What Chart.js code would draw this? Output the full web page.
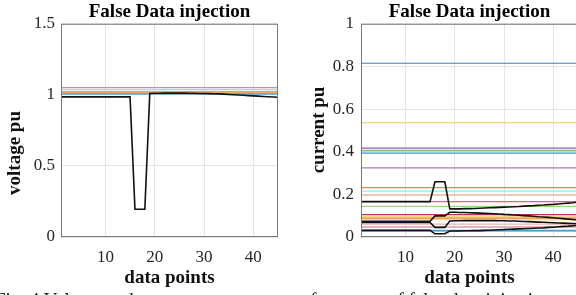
<!DOCTYPE html>
<html>
<head>
<meta charset="utf-8">
<title>False Data injection</title>
<script src="https://cdn.jsdelivr.net/npm/chart.js@4"></script>
<style>
    html, body { margin: 0; padding: 0; background: #fff; overflow: hidden; }
    #page { position: relative; width: 576px; height: 295px; overflow: hidden; }
    .box { position: absolute; top: 0; height: 295px; }
    #voltageBox { left: 0; width: 290px; }
    #currentBox { left: 290px; width: 300px; }
    #caption {
        position: absolute; top: 290px; left: -5px; white-space: nowrap;
        font: 19px "Liberation Serif", "Times New Roman", serif; line-height: 19px; color: #111;
    }
</style>
</head>
<body>
<div id="page">
    <div class="box" id="voltageBox"><canvas id="voltageChart" width="290" height="295"></canvas></div>
    <div class="box" id="currentBox"><canvas id="currentChart" width="300" height="295"></canvas></div>
    <div id="caption">Fig. 4 Voltage and current measurements for a case of false data injection attack</div>
</div>

<script>
// x axis: sample index 1..45
const dataPoints = Array.from({ length: 45 }, (_, i) => i + 1);
const xTicks = [10, 20, 30, 40];

// voltage plot
const voltageTicks = [0, 0.5, 1, 1.5];
const voltageTickLabels = ["0", "0.5", "1", "1.5"];
const voltageLevels = [1.051, 1.037, 1.023, 1.016, 1.007];
const voltageLevelColors = ["#b58fca", "#a9d6ee", "#e79a76", "#edb74a", "#2f7dbf"];
// attacked bus voltage
const voltageAttacked = [
    0.986, 0.986, 0.986, 0.986, 0.986, 0.986, 0.986, 0.986, 0.986, 0.986,
    0.986, 0.986, 0.986, 0.986, 0.986, 0.195, 0.195, 0.195, 1.010, 1.011,
    1.011, 1.012, 1.012, 1.012, 1.012, 1.012, 1.011, 1.011, 1.010, 1.010,
    1.009, 1.008, 1.007, 1.005, 1.003, 1.001, 0.999, 0.997, 0.995, 0.993,
    0.991, 0.989, 0.987, 0.985, 0.983
];

// current plot
const currentTicks = [0, 0.2, 0.4, 0.6, 0.8, 1];
const currentTickLabels = ["0", "0.2", "0.4", "0.6", "0.8", "1"];
const currentLevels = [
    0.815, 0.536, 0.417, 0.406, 0.398, 0.393, 0.324, 0.232, 0.215, 0.196,
    0.166, 0.144, 0.105, 0.093, 0.087, 0.081, 0.060, 0.047, 0.031, 0.026
];
const currentLevelColors = [
    "#3f7fbf", "#f7d283", "#9b59ae", "#8dc06a", "#8acfef", "#4a8fcc", "#a978b8", "#e8825a", "#a9ddf3", "#f0b49a",
    "#d0706c", "#a9d17f", "#b5344f", "#edb120", "#f0a070", "#f3cf6a", "#e9b7a8", "#c46a7e", "#4d9bd6", "#7fc9ec"
];
const currentA = [
    0.166, 0.166, 0.166, 0.166, 0.166, 0.166, 0.166, 0.166, 0.166, 0.166,
    0.166, 0.166, 0.166, 0.166, 0.166, 0.259, 0.259, 0.259, 0.132, 0.132,
    0.132, 0.133, 0.133, 0.134, 0.135, 0.136, 0.137, 0.138, 0.139, 0.140,
    0.141, 0.142, 0.143, 0.145, 0.146, 0.147, 0.149, 0.150, 0.152, 0.153,
    0.155, 0.157, 0.159, 0.161, 0.164
];
const currentB = [
    0.074, 0.074, 0.074, 0.074, 0.074, 0.074, 0.074, 0.074, 0.074, 0.074,
    0.074, 0.074, 0.074, 0.074, 0.074, 0.099, 0.099, 0.099, 0.116, 0.116,
    0.115, 0.115, 0.114, 0.113, 0.112, 0.111, 0.110, 0.109, 0.108, 0.106,
    0.105, 0.103, 0.102, 0.100, 0.099, 0.097, 0.095, 0.094, 0.092, 0.090,
    0.088, 0.086, 0.084, 0.082, 0.080
];
const currentC = [
    0.068, 0.068, 0.068, 0.068, 0.068, 0.068, 0.068, 0.068, 0.068, 0.068,
    0.068, 0.068, 0.068, 0.068, 0.068, 0.045, 0.045, 0.045, 0.075, 0.076,
    0.076, 0.077, 0.077, 0.077, 0.077, 0.077, 0.077, 0.077, 0.076, 0.076,
    0.075, 0.075, 0.074, 0.073, 0.072, 0.071, 0.070, 0.069, 0.068, 0.067,
    0.066, 0.065, 0.064, 0.063, 0.062
];
const currentD = [
    0.031, 0.031, 0.031, 0.031, 0.031, 0.031, 0.031, 0.031, 0.031, 0.031,
    0.031, 0.031, 0.031, 0.031, 0.031, 0.015, 0.015, 0.015, 0.028, 0.028,
    0.028, 0.029, 0.029, 0.030, 0.030, 0.031, 0.032, 0.033, 0.034, 0.035,
    0.036, 0.037, 0.038, 0.039, 0.040, 0.041, 0.042, 0.043, 0.045, 0.046,
    0.048, 0.050, 0.051, 0.053, 0.055
];

const serif = "'Liberation Serif', 'Times New Roman', serif";

// draws the axes box and the y label (MATLAB style)
const frame = {
    id: "frame",
    afterDraw(chart, args, opts) {
        const { ctx, chartArea } = chart;
        ctx.save();
        ctx.strokeStyle = "#7a7a7a";
        ctx.lineWidth = 1;
        ctx.strokeRect(chartArea.left + 0.5, chartArea.top + 0.5,
            chartArea.right - chartArea.left - 1, chartArea.bottom - chartArea.top - 1);
        ctx.translate(opts.labelX, opts.labelY);
        ctx.rotate(-Math.PI / 2);
        ctx.font = "bold 19px " + serif;
        ctx.fillStyle = "#111";
        ctx.textAlign = "center";
        ctx.textBaseline = "middle";
        ctx.fillText(opts.label, 0, 0);
        ctx.restore();
    }
};

function levelLine(value, color) {
    return {
        data: [{ x: dataPoints[0], y: value }, { x: dataPoints[dataPoints.length - 1], y: value }],
        borderColor: color,
        borderWidth: 1.2,
        pointRadius: 0
    };
}

function blackLine(values) {
    return {
        data: values.map((v, i) => ({ x: dataPoints[i], y: v })),
        borderColor: "#111",
        borderWidth: 1.6,
        pointRadius: 0
    };
}

function makeChart(canvasId, cfg) {
    return new Chart(document.getElementById(canvasId), {
        type: "line",
        data: { datasets: cfg.datasets },
        options: {
            responsive: false,
            animation: false,
            layout: { padding: { left: 0, right: 12, top: 0, bottom: 0 } },
            plugins: {
                legend: { display: false },
                tooltip: { enabled: false },
                title: {
                    display: true,
                    text: "False Data injection",
                    fullSize: false,
                    color: "#000",
                    font: { family: serif, size: 19, weight: "bold" },
                    padding: { top: 1, bottom: 0 }
                },
                frame: { label: cfg.label, labelX: cfg.labelX, labelY: cfg.labelY }
            },
            scales: {
                x: {
                    type: "linear",
                    min: 1,
                    max: 45,
                    afterFit: (scale) => { scale.height = 58; },
                    afterBuildTicks: (scale) => { scale.ticks = xTicks.map(v => ({ value: v })); },
                    grid: { color: "#e4e4e4", drawTicks: false },
                    border: { display: false },
                    ticks: {
                        padding: 10,
                        color: "#262626",
                        font: { family: serif, size: 17 },
                        callback: (v, i) => String(xTicks[i])
                    },
                    title: {
                        display: true,
                        text: "data points",
                        color: "#111",
                        font: { family: serif, size: 19, weight: "bold" },
                        padding: { top: 0, bottom: 6 }
                    }
                },
                y: {
                    min: cfg.yTicks[0],
                    max: cfg.yTicks[cfg.yTicks.length - 1],
                    afterFit: (scale) => { scale.width = cfg.yWidth; },
                    afterBuildTicks: (scale) => { scale.ticks = cfg.yTicks.map(v => ({ value: v })); },
                    grid: { color: "#e4e4e4", drawTicks: false },
                    border: { display: false },
                    ticks: {
                        padding: cfg.yPad,
                        color: "#262626",
                        font: { family: serif, size: 17 },
                        callback: (v, i) => cfg.yLabels[i]
                    }
                }
            }
        },
        plugins: [frame]
    });
}

// black (attacked) series first so they are drawn on top
makeChart("voltageChart", {
    datasets: [blackLine(voltageAttacked)].concat(
        voltageLevels.map((v, i) => levelLine(v, voltageLevelColors[i]))),
    yTicks: voltageTicks,
    yLabels: voltageTickLabels,
    yWidth: 61,
    yPad: 6,
    label: "voltage pu",
    labelX: 15,
    labelY: 153
});

makeChart("currentChart", {
    datasets: [blackLine(currentA), blackLine(currentB), blackLine(currentC), blackLine(currentD)].concat(
        currentLevels.map((v, i) => levelLine(v, currentLevelColors[i]))),
    yTicks: currentTicks,
    yLabels: currentTickLabels,
    yWidth: 71,
    yPad: 7,
    label: "current pu",
    labelX: 29,
    labelY: 130
});
</script>
</body>
</html>
